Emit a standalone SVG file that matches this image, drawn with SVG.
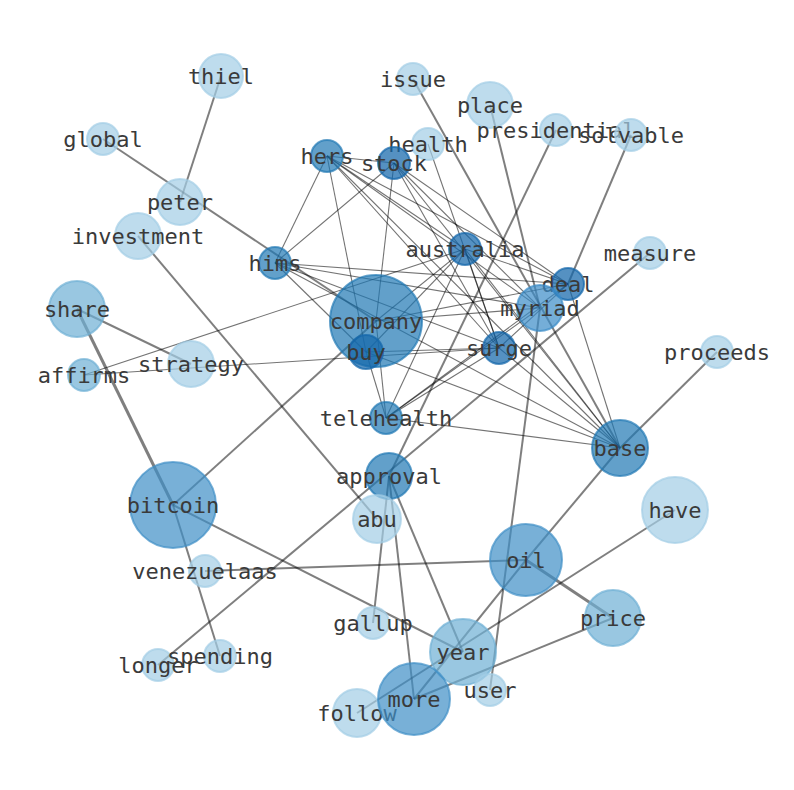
<svg xmlns="http://www.w3.org/2000/svg" width="794" height="790" viewBox="0 0 794 790">
<style>
.e{stroke:#000;stroke-opacity:0.5;fill:none}
.t{stroke-width:2}
.n{stroke-width:1.1;stroke-opacity:0.55}
.w{stroke-width:3}
circle{stroke-width:2}
.L{fill:#a2cde5;fill-opacity:0.7;stroke:#a2cde5;stroke-opacity:0.7}
.M{fill:#6eafd4;fill-opacity:0.7;stroke:#6eafd4;stroke-opacity:0.7}
.B{fill:#3f8fc6;fill-opacity:0.7;stroke:#3f8fc6;stroke-opacity:0.7}
.R{fill:#3a8cc8;fill-opacity:0.7;stroke:#3a8cc8;stroke-opacity:0.7}
.D{fill:#1f77b4;fill-opacity:0.7;stroke:#1f77b4;stroke-opacity:0.7}
.K{fill:#1466ab;fill-opacity:0.72;stroke:#1466ab;stroke-opacity:0.72}
text{font-family:"DejaVu Sans Mono","Liberation Mono",monospace;font-size:22px;fill:#3a3a3a;text-anchor:middle;dominant-baseline:central}
</style>
<rect width="794" height="790" fill="#fff"/>
<g id="edges">
<line class="e t" x1="221" y1="76" x2="180" y2="202"/>
<line class="e t" x1="103" y1="139" x2="376" y2="321"/>
<line class="e t" x1="138" y1="236" x2="377" y2="519"/>
<line class="e t" x1="77" y1="309" x2="191" y2="364"/>
<line class="e w" x1="77" y1="309" x2="173" y2="505"/>
<line class="e t" x1="173" y1="505" x2="220" y2="656"/>
<line class="e t" x1="173" y1="505" x2="376" y2="321"/>
<line class="e t" x1="173" y1="505" x2="463" y2="652"/>
<line class="e t" x1="205" y1="571" x2="526" y2="560"/>
<line class="e t" x1="158" y1="665" x2="650" y2="253"/>
<line class="e t" x1="373" y1="623" x2="389" y2="476"/>
<line class="e t" x1="389" y1="476" x2="414" y2="699"/>
<line class="e t" x1="389" y1="476" x2="463" y2="652"/>
<line class="e t" x1="389" y1="476" x2="556" y2="130"/>
<line class="e t" x1="413" y1="79" x2="620" y2="448"/>
<line class="e t" x1="490" y1="105" x2="540" y2="308"/>
<line class="e t" x1="631" y1="135" x2="568" y2="284"/>
<line class="e t" x1="540" y1="308" x2="490" y2="690"/>
<line class="e t" x1="717" y1="352" x2="620" y2="448"/>
<line class="e t" x1="526" y1="560" x2="620" y2="448"/>
<line class="e w" x1="526" y1="560" x2="613" y2="618"/>
<line class="e t" x1="414" y1="699" x2="526" y2="560"/>
<line class="e t" x1="414" y1="699" x2="613" y2="618"/>
<line class="e t" x1="675" y1="510" x2="357" y2="713"/>
<line class="e n" x1="327" y1="156" x2="394" y2="163"/>
<line class="e n" x1="327" y1="156" x2="275" y2="263"/>
<line class="e n" x1="327" y1="156" x2="366" y2="352"/>
<line class="e n" x1="327" y1="156" x2="465" y2="249"/>
<line class="e n" x1="327" y1="156" x2="568" y2="284"/>
<line class="e n" x1="327" y1="156" x2="540" y2="308"/>
<line class="e n" x1="327" y1="156" x2="499" y2="348"/>
<line class="e n" x1="327" y1="156" x2="620" y2="448"/>
<line class="e n" x1="394" y1="163" x2="275" y2="263"/>
<line class="e n" x1="394" y1="163" x2="376" y2="321"/>
<line class="e n" x1="394" y1="163" x2="568" y2="284"/>
<line class="e n" x1="394" y1="163" x2="540" y2="308"/>
<line class="e n" x1="394" y1="163" x2="499" y2="348"/>
<line class="e n" x1="394" y1="163" x2="620" y2="448"/>
<line class="e n" x1="275" y1="263" x2="568" y2="284"/>
<line class="e n" x1="275" y1="263" x2="540" y2="308"/>
<line class="e n" x1="275" y1="263" x2="366" y2="352"/>
<line class="e n" x1="275" y1="263" x2="499" y2="348"/>
<line class="e n" x1="275" y1="263" x2="620" y2="448"/>
<line class="e n" x1="465" y1="249" x2="376" y2="321"/>
<line class="e n" x1="465" y1="249" x2="366" y2="352"/>
<line class="e n" x1="465" y1="249" x2="386" y2="418"/>
<line class="e n" x1="465" y1="249" x2="568" y2="284"/>
<line class="e n" x1="465" y1="249" x2="499" y2="348"/>
<line class="e n" x1="465" y1="249" x2="620" y2="448"/>
<line class="e n" x1="376" y1="321" x2="568" y2="284"/>
<line class="e n" x1="376" y1="321" x2="540" y2="308"/>
<line class="e n" x1="376" y1="321" x2="386" y2="418"/>
<line class="e n" x1="366" y1="352" x2="499" y2="348"/>
<line class="e n" x1="366" y1="352" x2="386" y2="418"/>
<line class="e n" x1="366" y1="352" x2="620" y2="448"/>
<line class="e n" x1="499" y1="348" x2="568" y2="284"/>
<line class="e n" x1="499" y1="348" x2="386" y2="418"/>
<line class="e n" x1="499" y1="348" x2="620" y2="448"/>
<line class="e n" x1="386" y1="418" x2="568" y2="284"/>
<line class="e n" x1="386" y1="418" x2="540" y2="308"/>
<line class="e n" x1="386" y1="418" x2="620" y2="448"/>
<line class="e n" x1="568" y1="284" x2="620" y2="448"/>
<line class="e n" x1="84" y1="375" x2="465" y2="249"/>
<line class="e n" x1="84" y1="375" x2="499" y2="348"/>
<line class="e n" x1="428" y1="144" x2="499" y2="348"/>
</g>
<g id="thiel"><circle class="L" cx="221" cy="76" r="22"/><text x="221" y="76">thiel</text></g>
<g id="global"><circle class="L" cx="103" cy="139" r="16"/><text x="103" y="139">global</text></g>
<g id="peter"><circle class="L" cx="180" cy="202" r="23"/><text x="180" y="202">peter</text></g>
<g id="investment"><circle class="L" cx="138" cy="236" r="23"/><text x="138" y="236">investment</text></g>
<g id="issue"><circle class="L" cx="413" cy="79" r="16"/><text x="413" y="79">issue</text></g>
<g id="place"><circle class="L" cx="490" cy="105" r="23"/><text x="490" y="105">place</text></g>
<g id="health"><circle class="L" cx="428" cy="144" r="16"/><text x="428" y="144">health</text></g>
<g id="presidential"><circle class="L" cx="556" cy="130" r="16"/><text x="556" y="130">presidential</text></g>
<g id="solvable"><circle class="L" cx="631" cy="135" r="16"/><text x="631" y="135">solvable</text></g>
<g id="hers"><circle class="D" cx="327" cy="156" r="16"/><text x="327" y="156">hers</text></g>
<g id="stock"><circle class="K" cx="394" cy="163" r="16"/><text x="394" y="163">stock</text></g>
<g id="hims"><circle class="D" cx="275" cy="263" r="16"/><text x="275" y="263">hims</text></g>
<g id="australia"><circle class="K" cx="465" cy="249" r="16"/><text x="465" y="249">australia</text></g>
<g id="measure"><circle class="L" cx="650" cy="253" r="16"/><text x="650" y="253">measure</text></g>
<g id="deal"><circle class="K" cx="568" cy="284" r="16"/><text x="568" y="284">deal</text></g>
<g id="myriad"><circle class="R" cx="540" cy="308" r="23"/><text x="540" y="308">myriad</text></g>
<g id="company"><circle class="D" cx="376" cy="321" r="46"/><text x="376" y="321">company</text></g>
<g id="buy"><circle class="K" cx="366" cy="352" r="17"/><text x="366" y="352">buy</text></g>
<g id="surge"><circle class="K" cx="499" cy="348" r="16"/><text x="499" y="348">surge</text></g>
<g id="share"><circle class="M" cx="77" cy="309" r="28"/><text x="77" y="309">share</text></g>
<g id="affirms"><circle class="M" cx="84" cy="375" r="16"/><text x="84" y="375">affirms</text></g>
<g id="strategy"><circle class="L" cx="191" cy="364" r="23"/><text x="191" y="364">strategy</text></g>
<g id="proceeds"><circle class="L" cx="717" cy="352" r="16"/><text x="717" y="352">proceeds</text></g>
<g id="telehealth"><circle class="D" cx="386" cy="418" r="16"/><text x="386" y="418">telehealth</text></g>
<g id="base"><circle class="D" cx="620" cy="448" r="28"/><text x="620" y="448">base</text></g>
<g id="approval"><circle class="D" cx="389" cy="476" r="23"/><text x="389" y="476">approval</text></g>
<g id="bitcoin"><circle class="B" cx="173" cy="505" r="43"/><text x="173" y="505">bitcoin</text></g>
<g id="abu"><circle class="L" cx="377" cy="519" r="24"/><text x="377" y="519">abu</text></g>
<g id="have"><circle class="L" cx="675" cy="510" r="33"/><text x="675" y="510">have</text></g>
<g id="oil"><circle class="B" cx="526" cy="560" r="36"/><text x="526" y="560">oil</text></g>
<g id="venezuelaas"><circle class="L" cx="205" cy="571" r="16"/><text x="205" y="571">venezuelaas</text></g>
<g id="gallup"><circle class="L" cx="373" cy="623" r="16"/><text x="373" y="623">gallup</text></g>
<g id="price"><circle class="M" cx="613" cy="618" r="28"/><text x="613" y="618">price</text></g>
<g id="year"><circle class="M" cx="463" cy="652" r="33"/><text x="463" y="652">year</text></g>
<g id="longer"><circle class="L" cx="158" cy="665" r="16"/><text x="158" y="665">longer</text></g>
<g id="spending"><circle class="L" cx="220" cy="656" r="16"/><text x="220" y="656">spending</text></g>
<g id="user"><circle class="L" cx="490" cy="690" r="16"/><text x="490" y="690">user</text></g>
<g id="follow"><circle class="L" cx="357" cy="713" r="24"/><text x="357" y="713">follow</text></g>
<g id="more"><circle class="B" cx="414" cy="699" r="36"/><text x="414" y="699">more</text></g>
</svg>
